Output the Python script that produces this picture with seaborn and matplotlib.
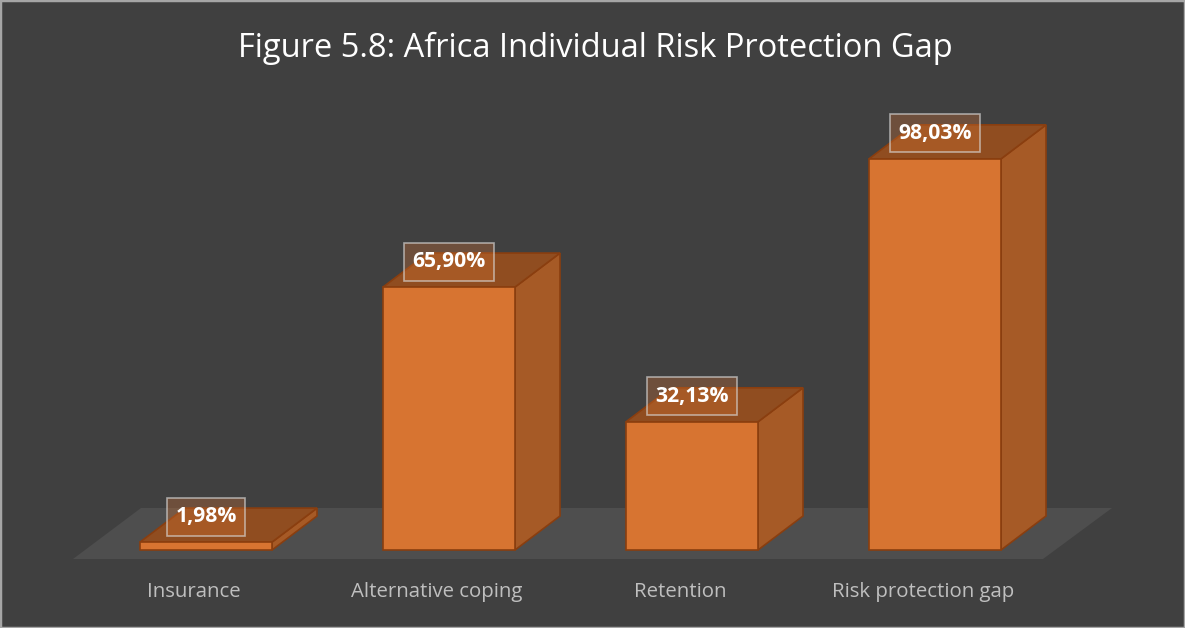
import matplotlib
matplotlib.use("Agg")
import matplotlib.pyplot as plt
from matplotlib.patches import Polygon, Rectangle
from matplotlib.transforms import ScaledTranslation
import seaborn as sns

categories = ["Insurance", "Alternative coping", "Retention", "Risk protection gap"]
values = [1.98, 65.90, 32.13, 98.03]
labels = ["1,98%", "65,90%", "32,13%", "98,03%"]
title = "Figure 5.8: Africa Individual Risk Protection Gap"

BG = "#404040"
FLOOR = "#4e4e4e"
FRONT = "#d77431"
SIDE = "#a65a26"
TOP = "#904d20"
EDGE = "#8a3e0f"

W, H, DPI = 11.85, 6.28, 100
PX_X = 243.0      # pixels per category step
PX_Y = 3.99       # pixels per percentage point
X0_PX = 206.0     # pixel position of first category centre
BASE_PX = 550.0   # pixel row of the bar baseline
YMIN, YMAX = -5.0, 113.0

sns.set_theme(style="dark")
plt.rcParams["font.family"] = ["Open Sans", "DejaVu Sans"]

fig = plt.figure(figsize=(W, H), dpi=DPI, facecolor=BG)
ax_h_px = (YMAX - YMIN) * PX_Y
ax_bottom_px = H * DPI - (BASE_PX + (-YMIN) * PX_Y)
ax = fig.add_axes([0, ax_bottom_px / (H * DPI), 1, ax_h_px / (H * DPI)])
ax.set_facecolor(BG)

df = {"cat": categories, "val": values}
sns.barplot(x="cat", y="val", data=df, color=FRONT, saturation=1,
            width=132 / PX_X, edgecolor=EDGE, linewidth=1.2, ax=ax, zorder=3)

ax.set_xlim(-X0_PX / PX_X, (W * DPI - X0_PX) / PX_X)
ax.set_ylim(YMIN, YMAX)

# depth offset of the 3D extrusion, in data units
DX = 45 / PX_X
DY = 34 / PX_Y

# floor slab under the bars
f_front = -9 / PX_Y
f_back = 42 / PX_Y
floor = Polygon([(-133 / PX_X, f_front), (837 / PX_X, f_front),
                 (906 / PX_X, f_back), (-65 / PX_X, f_back)],
                closed=True, facecolor=FLOOR, edgecolor="none", zorder=1)
ax.add_patch(floor)

for bar, lab in zip(ax.patches[:len(values)], labels):
    x0 = bar.get_x()
    x1 = x0 + bar.get_width()
    h = bar.get_height()
    side = Polygon([(x1, 0), (x1 + DX, DY), (x1 + DX, h + DY), (x1, h)],
                   closed=True, facecolor=SIDE, edgecolor=EDGE, lw=1.2, zorder=2)
    top = Polygon([(x0, h), (x1, h), (x1 + DX, h + DY), (x0 + DX, h + DY)],
                  closed=True, facecolor=TOP, edgecolor=EDGE, lw=1.2, zorder=2)
    ax.add_patch(side)
    ax.add_patch(top)
    cx = x0 + bar.get_width() / 2
    ax.text(cx, h + 25.5 / PX_Y, lab, ha="center", va="center", color="white",
            fontsize=15.2, fontweight="bold", zorder=5,
            bbox=dict(boxstyle="square,pad=0.4", facecolor=(0.85, 0.46, 0.2, 0.3),
                      edgecolor=(0.85, 0.85, 0.85, 0.65), linewidth=1.2))

ax.set_xticks(range(len(categories)))
ax.set_xticklabels(categories, color="#bfbfbf", fontsize=14.7)
ax.tick_params(axis="x", length=0, pad=9)
shift = ScaledTranslation(-12 / DPI, 0, fig.dpi_scale_trans)
for t in ax.get_xticklabels():
    t.set_transform(t.get_transform() + shift)
ax.set_yticks([])
ax.set_xlabel("")
ax.set_ylabel("")
ax.grid(False)
for s in ax.spines.values():
    s.set_visible(False)

fig.text(595 / (W * DPI), 1 - 48 / (H * DPI), title, ha="center", va="center",
         color="white", fontsize=23.5)

fig.patches.append(Rectangle((0, 0), 1, 1, transform=fig.transFigure,
                             fill=False, edgecolor="#a6a6a6", linewidth=2.5))

fig.savefig("out.png", dpi=DPI, facecolor=BG)
